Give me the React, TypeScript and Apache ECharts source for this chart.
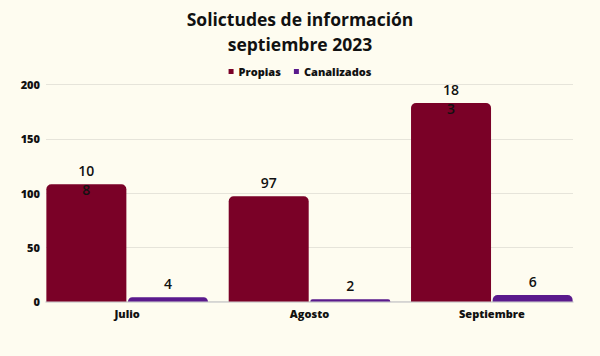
import React, { useEffect, useRef } from "react";
import * as echarts from "echarts";

const categories = ["Julio", "Agosto", "Septiembre"];
const propias = [108, 97, 183];
const canalizados = [4, 2, 6];
const yTicks = [0, 50, 100, 150, 200];

export default function App() {
  const ref = useRef<HTMLDivElement>(null);
  useEffect(() => {
    if (!ref.current) return;
    const chart = echarts.init(ref.current, null, { renderer: "svg" });
    const font = "'Open Sans', 'Noto Sans', sans-serif";
    const labelCfg = {
      show: true,
      position: "top",
      verticalAlign: "top",
      distance: 23,
      color: "#111",
      fontSize: 14,
      fontWeight: 600,
      fontFamily: font,
      lineHeight: 19,
      width: 20,
      overflow: "breakAll",
      align: "center",
    };
    chart.setOption({
      animation: false,
      backgroundColor: "#fefcf0",
      title: {
        text: "Solictudes de información\nseptiembre 2023",
        left: "center",
        top: 1,
        textStyle: {
          fontFamily: font,
          fontWeight: "bold",
          fontSize: 17.5,
          lineHeight: 25,
          color: "#111",
        },
      },
      legend: {
        top: 61,
        left: "center",
        itemWidth: 5,
        itemHeight: 5,
        itemGap: 13,
        icon: "rect",
        textStyle: { fontFamily: font, fontWeight: 800, fontSize: 11, color: "#111" },
        data: ["Propias", "Canalizados"],
      },
      grid: [
        { left: 36, right: 17, top: 84.5, bottom: 54.5 },
        { left: 46, right: 27, top: 84.5, bottom: 54.5 },
      ],
      xAxis: [
        {
          type: "category",
          gridIndex: 0,
          data: categories,
          axisTick: { show: false },
          axisLine: { show: false },
          axisLabel: { fontFamily: font, fontWeight: 800, fontSize: 11, color: "#111", margin: 6 },
        },
        {
          type: "value",
          gridIndex: 1,
          show: true,
          min: 0,
          max: 1,
          axisLabel: { show: false },
          axisTick: { show: false },
          splitLine: { show: false },
          axisLine: { show: true, lineStyle: { color: "#cfcfcf", width: 1.5 } },
        },
      ],
      yAxis: [
        {
          type: "value",
          gridIndex: 0,
          min: 0,
          max: 200,
          interval: 50,
          show: false,
        },
        {
          type: "value",
          gridIndex: 1,
          min: yTicks[0],
          max: yTicks[yTicks.length - 1],
          interval: 50,
          axisLine: { show: false },
          axisTick: { show: false },
          axisLabel: { fontFamily: font, fontWeight: 800, fontSize: 11, color: "#111", margin: 6 },
          splitLine: { lineStyle: { color: "#e6e4da", width: 1 } },
        },
      ],
      series: [
        {
          name: "Propias",
          type: "bar",
          xAxisIndex: 0,
          yAxisIndex: 0,
          data: propias,
          barWidth: 80,
          barGap: "2%",
          itemStyle: { color: "#7a0127", borderRadius: [5, 5, 0, 0] },
          label: labelCfg,
          z: 3,
        },
        {
          name: "Canalizados",
          type: "bar",
          xAxisIndex: 0,
          yAxisIndex: 0,
          data: canalizados,
          barWidth: 80,
          barGap: "2%",
          itemStyle: { color: "#5a1a8c", borderRadius: [5, 5, 0, 0] },
          label: labelCfg,
          z: 3,
        },
      ],
    });
    return () => chart.dispose();
  }, []);
  return <div ref={ref} style={{ width: 600, height: 356, position: "absolute", left: 0, top: 0 }} />;
}
